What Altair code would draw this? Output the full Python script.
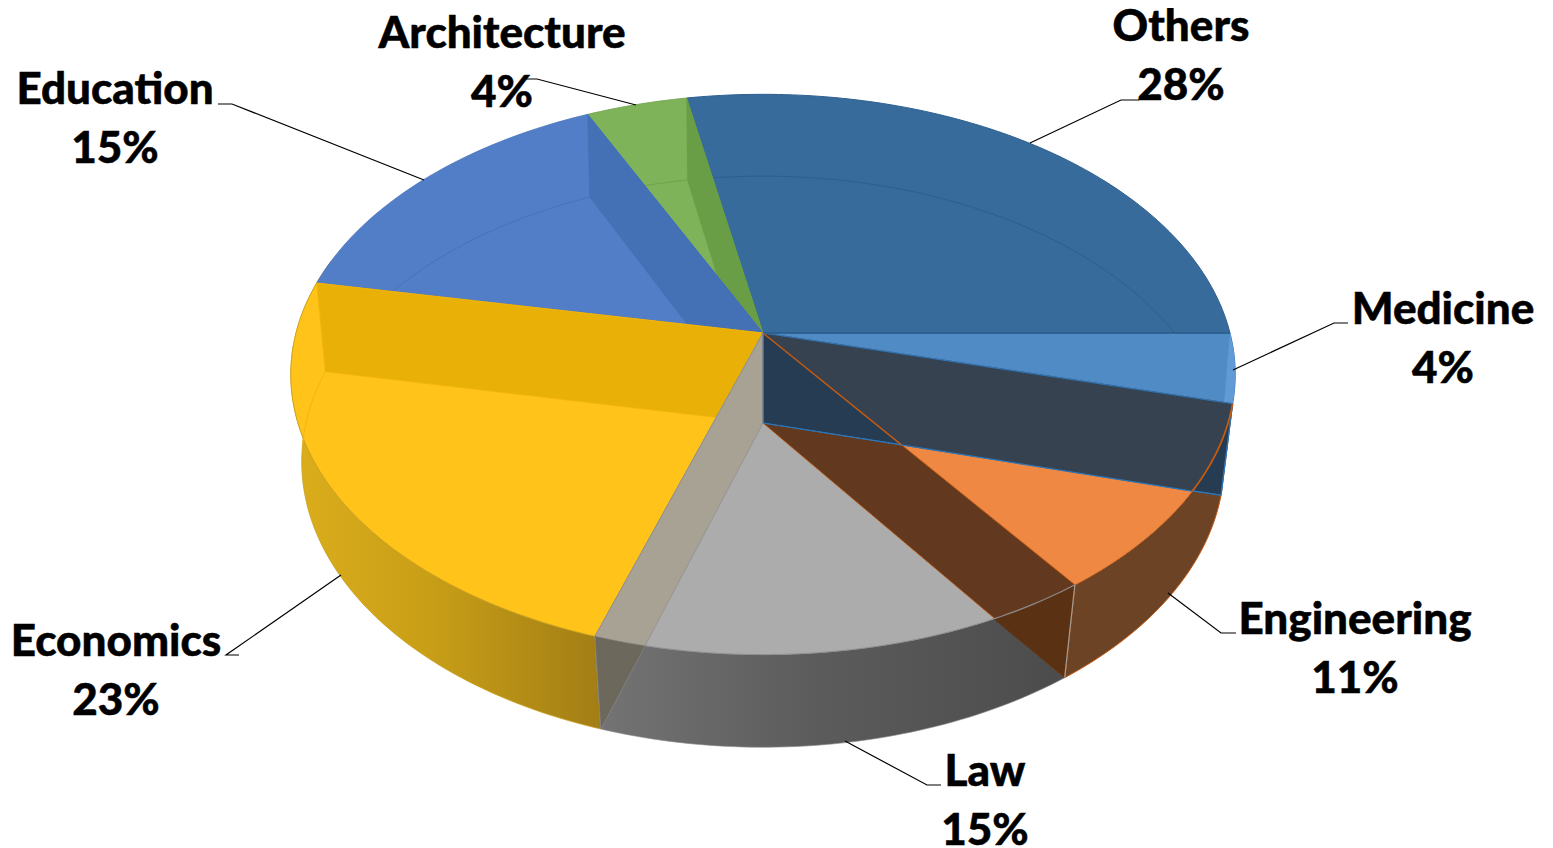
import math
import altair as alt
import pandas as pd

categories = ["Others", "Medicine", "Engineering", "Law", "Economics", "Education", "Architecture"]
shares = [28, 4, 11, 15, 23, 15, 4]

# ---- view geometry of the tilted disc (page pixels) ----
CX, CY, A, B, K = 763, 333, 467, 274, 0.148
DROP, A2, B2, K2 = 90, 457, 280.3, 0.1355


def top(t):
    u, v = math.cos(math.radians(t)), math.sin(math.radians(t))
    d = 1 + K * v
    return (CX + A * u / d, CY - B * v / d)


def bot(t):
    u, v = math.cos(math.radians(t)), math.sin(math.radians(t))
    d = 1 + K2 * v
    return (CX + A2 * u / d, CY + DROP - B2 * v / d)


def arc(f, a, b):
    n = max(2, int(abs(b - a)) + 1)
    return [f(a + (b - a) * i / n) for i in range(n + 1)]


# boundary angles, clockwise from the end of the first slice at 0 degrees
ang = {}
start = shares[0] * 3.6
cur = start
for c, s in zip(categories, shares):
    ang[c] = (cur, cur - s * 3.6)
    cur -= s * 3.6

APEX = (CX, CY)
APEXB = (CX, CY + DROP)


def meet(p1, p2, p3, p4):
    x1, y1, x2, y2 = *p1, *p2
    x3, y3, x4, y4 = *p3, *p4
    den = (x1 - x2) * (y3 - y4) - (y1 - y2) * (x3 - x4)
    t = ((x1 - x3) * (y3 - y4) - (y1 - y3) * (x3 - x4)) / den
    return (x1 + t * (x2 - x1), y1 + t * (y2 - y1))


def crossing(corner, other):
    """Angle at which the wall's lower edge passes under the rim."""
    c = bot(corner)
    prev = None
    n = 400
    for i in range(1, n):
        t = corner + (other - corner) * i / n
        p = top(t)
        sgn = (c[0] - APEXB[0]) * (p[1] - APEXB[1]) - (c[1] - APEXB[1]) * (p[0] - APEXB[0])
        if prev is not None and sgn * prev < 0:
            return t
        prev = sgn
    return other


X = alt.X("x:Q", scale=alt.Scale(domain=[8, 1545], nice=False, zero=False), axis=None)
Y = alt.Y("y:Q", scale=alt.Scale(domain=[848, 8], nice=False, zero=False), axis=None)
layers = []


def frame(pts):
    return pd.DataFrame({"x": [p[0] for p in pts], "y": [p[1] for p in pts], "i": range(len(pts))})


def poly(pts, fill, stroke=None, sw=0.8):
    pts = list(pts) + [pts[0]]
    layers.append(
        alt.Chart(frame(pts))
        .mark_line(fill=fill, stroke=stroke or (fill if isinstance(fill, str) else "#888888"),
                   strokeWidth=sw, interpolate="linear", clip=False)
        .encode(x=X, y=Y, order="i:Q")
    )


def line(pts, color, sw=1.0):
    layers.append(
        alt.Chart(frame(pts))
        .mark_line(stroke=color, strokeWidth=sw, interpolate="linear")
        .encode(x=X, y=Y, order="i:Q")
    )


def grad(stops):
    return alt.Gradient(
        gradient="linear", x1=0, x2=1, y1=0, y2=0,
        stops=[alt.GradientStop(color=c, offset=o) for o, c in stops],
    )


def wedge(c):
    a, b = ang[c]
    return [APEX] + arc(top, a, b)


def wall(t):
    return [APEX, top(t), bot(t), APEXB]


oth, med, eng, law, eco, edu, arch = (ang[c] for c in categories)

# outer walls
poly(arc(top, eco[0], eco[1] - 5) + arc(bot, eco[1] - 1, eco[0]),
     grad([(0, "#DCAE1C"), (0.45, "#C89E17"), (1, "#A27E15")]), "#C9A01A", 0.8)
poly(arc(top, eng[1], eng[0]) + arc(bot, eng[0], eng[1]), "#6C4325", "#C55A11", 1.0)
poly(arc(top, law[1], law[0]) + arc(bot, law[0], law[1]),
     grad([(0, "#747474"), (0.45, "#5C5C5C"), (1, "#4B4B4B")]), "#8A8A8A", 0.6)

# tops and interior walls, back to front
poly(wedge("Medicine"), "#518BC6", "#2E75B6", 1.0)
poly([top(0)] + arc(top, -3, med[1]) + [(CX + 0.982 * (top(med[1])[0] - CX), top(med[1])[1])],
     "#629AD6", "#629AD6", 0.3)
poly(wedge("Others"), "#366B9C", "#2F6090", 1.0)
line(arc(bot, oth[0], 19.6), "#2F5E8C", 1.0)
poly(wedge("Architecture"), "#7FB35A", "#6C9F48", 0.8)
line(arc(bot, arch[0], arch[1]), "#70A44C", 1.0)
poly(wall(oth[0]), "#699E46", "#699E46", 0.5)
poly(wedge("Education"), "#527DC7", "#4A74BC", 0.8)
line(arc(bot, edu[0], edu[1]), "#4772BB", 1.0)
poly(wall(edu[1]), "#4470B5", "#4470B5", 0.5)
poly(wedge("Economics"), "#FFC31A", "#C9A01A", 0.8)
line(arc(bot, eco[1], eco[1] + 15), "#F2B60F", 1.0)
poly(wall(eco[1]), "#E9B108", "#F2B60F", 0.8)
poly(wedge("Law"), "#ACACAC", "#8F8F8F", 1.0)
poly(wall(law[1]), "#A8A295", "#8F8F8F", 0.8)
phi = crossing(law[1], law[0])
poly(arc(top, law[1], phi) + [bot(law[1])], "#6D685C", "#7F7F7F", 0.6)
poly(wedge("Engineering"), "#EE8843", "#D9702A", 0.8)
poly(wall(eng[1]), "#62391E", "#C55A11", 0.8)
phi2 = crossing(eng[1], law[1])
poly(arc(top, eng[1], phi2) + [bot(eng[1])], "#5A3112", "#5A3112", 0.3)
line(arc(top, eng[1], phi2), "#8C8C8C", 1.2)
line([top(eng[1]), bot(eng[1])], "#A59A90", 1.2)
poly(wall(med[1]), "#263C53", "#2E75B6", 1.0)
cross = meet(APEX, top(eng[1]), APEXB, bot(med[1]))
phi3 = crossing(med[1], eng[1])
poly([APEX, top(med[1])] + arc(top, med[1], phi3) + [cross], "#36424F", "#36424F", 0.3)
line([APEXB, cross, top(phi3), bot(med[1])], "#2E75B6", 1.2)
line([top(med[1]), bot(med[1])], "#2E75B6", 1.2)
line([APEX, top(med[1])], "#2E75B6", 1.2)
line([APEX, cross], "#C55A11", 1.5)
line(arc(top, med[1], phi3), "#C55A11", 1.8)
line([APEX, APEXB], "#8F8F8F", 0.8)
line([APEX, top(0)], "#2A5A88", 1.2)

# leader lines
leaders = {
    "Others": [(1139, 100), (1121, 100), (1030, 143)],
    "Medicine": [(1348, 323), (1334, 323), (1233, 370)],
    "Engineering": [(1236, 633), (1221, 633), (1168, 593)],
    "Law": [(941, 785), (927, 785), (845, 741)],
    "Economics": [(239, 655), (226, 655), (341, 575)],
    "Education": [(218, 104), (232, 104), (424, 180)],
    "Architecture": [(525, 79), (537, 79), (636, 105)],
}
for c in categories:
    line(leaders[c], "#000000", 1.2)

# labels
label_at = {
    "Others": (1181, 41),
    "Medicine": (1443, 324),
    "Engineering": (1355, 634),
    "Law": (985, 786),
    "Economics": (116, 656),
    "Education": (115, 104),
    "Architecture": (502, 48),
}
rows = []
for c, s in zip(categories, shares):
    x, y = label_at[c]
    rows.append({"x": x, "y": y, "t": c})
    rows.append({"x": x, "y": y + 59, "t": f"{s}%"})
layers.append(
    alt.Chart(pd.DataFrame(rows))
    .mark_text(font="Lato", fontWeight=900, fontSize=44, color="#000000", stroke="#000000", strokeWidth=0.5,
               align="center", baseline="alphabetic")
    .encode(x=X, y=Y, text="t:N")
)

chart = (
    alt.layer(*layers)
    .properties(width=1537, height=840, padding=0, autosize=alt.AutoSizeParams(type="none"))
    .configure_view(stroke=None)
)
chart.save("out.html", embed_options={"renderer": "svg", "actions": False})
